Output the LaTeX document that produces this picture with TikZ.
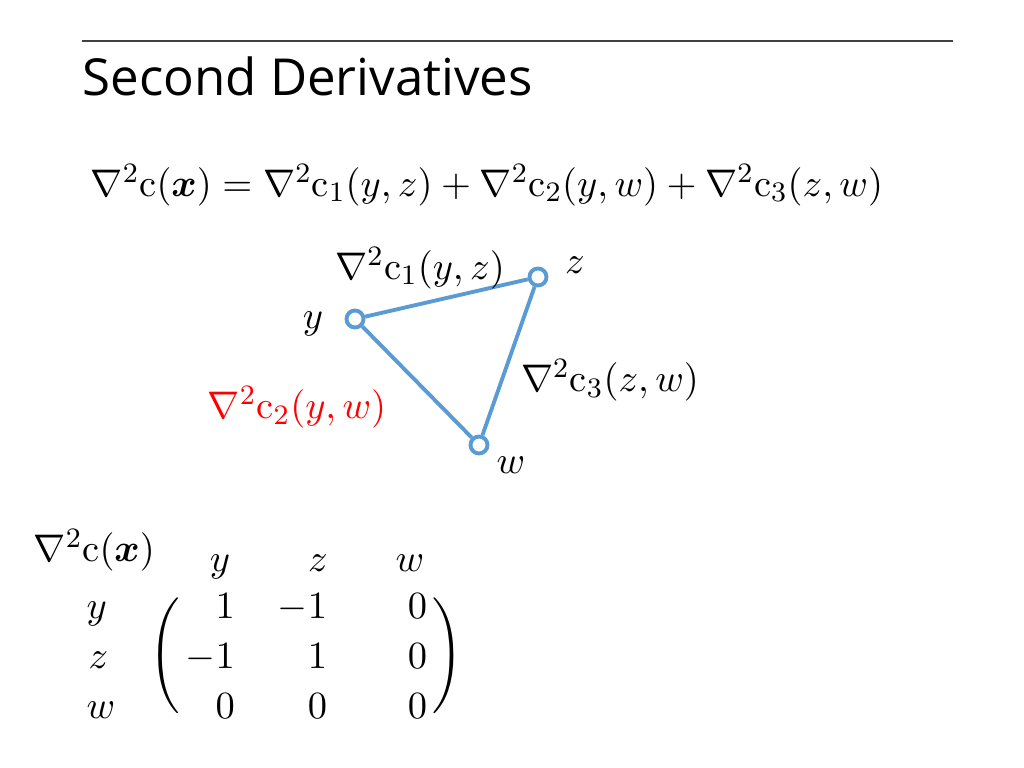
\documentclass[tikz,border=0pt]{standalone}
\usepackage{amsmath}
\usepackage{fontspec}
\newfontfamily\titlefont{Open Sans}
\usetikzlibrary{matrix}
\definecolor{edgeblue}{RGB}{91,155,213}
\definecolor{rulegray}{RGB}{64,64,64}

\begin{document}
\begin{tikzpicture}[x=0.01cm, y=-0.01cm,
  vertex/.style = {draw=edgeblue, circle, fill=white, line width=1.1pt, minimum size=0.17cm, inner sep=0pt},
  edge/.style = {draw=edgeblue, line width=1.1pt},
  lbl/.style = {inner sep=0pt},
  font=\fontsize{10.9}{13}\selectfont]
\useasboundingbox (0,0) rectangle (1024,768);
% title
\draw[rulegray, line width=0.6pt] (82,41) -- (953,41);
\node[lbl, anchor=base west] (title) at (82,96) {\titlefont\fontsize{14.5}{17}\selectfont Second Derivatives};
\node[lbl, anchor=west] (sum) at (90,185) {$\nabla^2\mathrm{c}(\boldsymbol{x}) = \nabla^2\mathrm{c}_1(y,z) + \nabla^2\mathrm{c}_2(y,w) + \nabla^2\mathrm{c}_3(z,w)$};
% graph
\node[vertex] (y) at (355,319) {};
\node[vertex] (z) at (538,277) {};
\node[vertex] (w) at (479,445) {};
\draw[edge] (y) -- (z);
\draw[edge] (z) -- (w);
\draw[edge] (w) -- (y);
\node[lbl] (ylab) at (313,324) {$y$};
\node[lbl] (zlab) at (575,265) {$z$};
\node[lbl] (wlab) at (511,465) {$w$};
\node[lbl] (c1) at (420,268) {$\nabla^2\mathrm{c}_1(y,z)$};
\node[lbl] (c3) at (610,380) {$\nabla^2\mathrm{c}_3(z,w)$};
\node[lbl, text=red] (c2) at (297,407) {$\nabla^2\mathrm{c}_2(y,w)$};
% hessian
\node[lbl, anchor=west] (hesslab) at (33,550) {$\nabla^2\mathrm{c}(\boldsymbol{x})$};
\matrix (hess) [matrix of math nodes, inner sep=0pt, left delimiter=(, right delimiter=),
  nodes={lbl, text width=0.5cm, align=right, text height=0.25cm, text depth=0cm},
  row sep=0.25cm, column sep=0.42cm] at (306,656) {
   1 & -1 &[0.08cm] 0 \\
  -1 &  1 &[0.08cm] 0 \\
   0 &  0 &[0.08cm] 0 \\
};
\node[lbl, anchor=base] (coly) at (220,572) {$y$};
\node[lbl, anchor=base] (colz) at (318,572) {$z$};
\node[lbl, anchor=base] (colw) at (410,572) {$w$};
\node[lbl, anchor=base west] (rowy) at (hess-1-1.base -| 86,0) {$y$};
\node[lbl, anchor=base west] (rowz) at (hess-2-1.base -| 88,0) {$z$};
\node[lbl, anchor=base west] (roww) at (hess-3-1.base -| 86,0) {$w$};
\end{tikzpicture}
\end{document}
